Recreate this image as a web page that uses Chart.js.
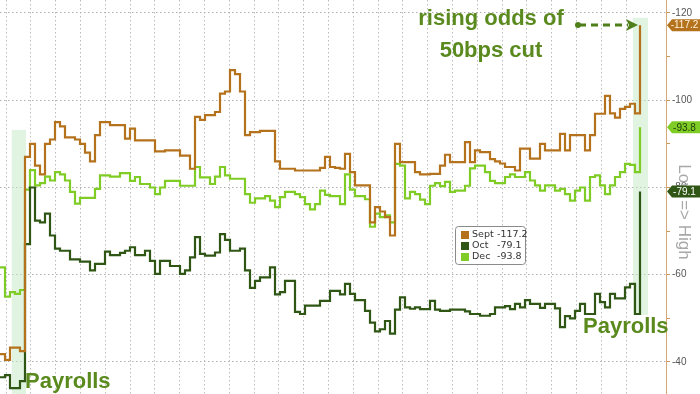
<!DOCTYPE html>
<html><head><meta charset="utf-8">
<script src="https://cdn.jsdelivr.net/npm/chart.js@4.4.1/dist/chart.umd.min.js"></script>
<style>html,body{margin:0;padding:0;background:#fff;overflow:hidden}#wrap{position:relative;width:700px;height:394px}</style>
</head><body><div id="wrap"><canvas id="c" width="700" height="394"></canvas></div>
<script>
const seriesNames = ['Sept', 'Oct', 'Dec'];
const sept = [-41.8,-40.5,-43.3,-43.3,-42.5,-87,-90,-85,-83,-90,
 -91,-95,-94,-91.5,-91.5,-91,-90,-88,-86,-92,
 -95,-95,-94.3,-94.3,-94.3,-91.2,-93.5,-90.8,-90.8,-90.8,
 -90.8,-88.3,-88.3,-88.5,-88.5,-88.5,-87.3,-87.3,-84.3,-96.2,
 -95.5,-96.6,-96.6,-97.3,-101.5,-102,-106.9,-106,-102,-92,
 -92.7,-92.7,-93,-93,-93,-86,-84.3,-84.3,-84.3,-83.9,
 -83.9,-83.9,-83.9,-83.9,-84.5,-87,-84.7,-84.5,-84.3,-87.7,
 -83.5,-80.5,-80.5,-80.5,-72,-75.5,-74.5,-73.2,-69,-90,
 -85.8,-85.8,-85.8,-83.5,-83,-83,-83.1,-83.1,-85,-87.5,
 -85.8,-85.8,-85.8,-90.4,-85.8,-88.5,-88.1,-88.1,-86.5,-86,
 -85.5,-84.7,-84.7,-83.9,-88.9,-88.9,-86.6,-86.6,-90,-88.5,
 -88.5,-88.5,-92.3,-88.5,-92,-92,-92,-88.5,-92,-96.9,
 -96.9,-101,-97,-96,-98,-98.5,-99.2,-97,-117.2];
const oct = [-36.5,-37,-34,-34,-35.6,-67,-80,-72.4,-72,-74,
 -69,-66,-65.5,-65.5,-63.5,-63.5,-63,-63,-61,-62.5,
 -62.5,-65.3,-64.5,-64.5,-65,-65.5,-66.3,-64.5,-64.5,-65.5,
 -63.2,-60.2,-63.2,-63.2,-62,-62,-60.2,-61,-64,-68.6,
 -64.8,-64.4,-64.4,-65.1,-69.3,-68,-65.5,-65.5,-66,-61,
 -57,-58.6,-59.4,-59.4,-61.7,-55.5,-56,-58.6,-58.6,-51.5,
 -51,-52.9,-52.9,-52.9,-54,-54,-56.3,-56.3,-55.5,-57.9,
 -55.6,-54.2,-54.2,-51.7,-49,-47,-47.5,-49.4,-46.5,-52,
 -54.8,-52.5,-52.2,-52.5,-52.1,-52.1,-54,-52,-51.7,-51.7,
 -52,-52,-52,-51.6,-51,-51,-50.6,-50.6,-51,-52.5,
 -52.5,-52.8,-52.1,-53.3,-52.5,-54.2,-53.3,-53.3,-52.4,-53.3,
 -53.3,-52.3,-48,-50.5,-50,-51.7,-53.3,-51,-51,-55.6,
 -53.7,-52.5,-55.6,-54.6,-54.6,-57.1,-57.9,-51,-79.1];
const dec = [-61.7,-55,-56,-55.6,-56.5,-79.5,-84,-80.5,-81,-82.5,
 -81.6,-83.5,-83,-81.6,-79,-76.3,-77.6,-77.6,-77.6,-79.7,
 -82.8,-82.8,-82.5,-82.5,-83.3,-83.3,-81.5,-82.4,-80.8,-80.8,
 -80,-78.5,-80,-81.5,-81.5,-81.5,-80.4,-80.4,-80.4,-84.7,
 -82.3,-82.3,-80.8,-82.5,-84.7,-82.8,-82,-82,-82,-78.5,
 -76.5,-77.5,-77.5,-78,-77,-75.5,-77.8,-79,-79,-78.5,
 -77.8,-76.2,-75,-76.2,-79.3,-78.3,-78,-78,-76.2,-83,
 -79.5,-78,-78,-77.3,-71,-74,-73.2,-73.6,-72,-85.4,
 -85,-77.5,-79,-78.5,-77.2,-76.2,-80.4,-81,-80.3,-81.3,
 -79,-79.3,-79.3,-80.4,-84.4,-85,-85,-83.5,-81.5,-81,
 -81,-82.4,-83,-82.4,-82.4,-83.5,-81.6,-80.5,-79.3,-80.5,
 -80.5,-79.3,-79.7,-78.5,-77,-79.3,-80,-77,-82.4,-82.8,
 -80.5,-78.5,-80.5,-82.4,-83.5,-85.4,-85.2,-83.5,-93.8];
const yTickValues = [-120,-110,-100,-90,-80,-70,-60,-50,-40];
const yLabelValues = [-120,-100,-80,-60,-40];

const colors = ['#b5721d', '#2f5614', '#80cc26'];
const badgeText = ['#fff2dc', '#ffffff', '#1e3a0a'];
const series = [sept, oct, dec];

const X_MIN = 0, X_MAX = 133.2, Y_TOP = -122.98, Y_BOTTOM = -32.66;
const xGrid = [];
for (let k = 0; k <= 25; k++) xGrid.push(1.2 + 4.96 * k);
const bands = [
  {x0: 2.35, x1: 5.2, top: -93.2, bottom: Y_BOTTOM},
  {x0: 126.6, x1: 129.6, top: -118.9, bottom: -50.8}
];

const datasets = series.map((arr, s) => ({
  label: seriesNames[s],
  data: arr.map((v, i) => ({x: i, y: v})),
  borderColor: colors[s],
  backgroundColor: colors[s],
  borderWidth: 2.2,
  pointRadius: 0,
  stepped: true,
  tension: 0,
  fill: false
}));

const overlay = {
  id: 'overlay',
  beforeDatasetsDraw(chart) {
    const {ctx, scales: {x, y}} = chart;
    ctx.save();
    ctx.fillStyle = 'rgba(196,232,196,0.5)';
    bands.forEach(b => {
      const px0 = x.getPixelForValue(b.x0), px1 = x.getPixelForValue(b.x1);
      const py0 = y.getPixelForValue(b.top), py1 = y.getPixelForValue(b.bottom);
      ctx.fillRect(px0, py0, px1 - px0, py1 - py0);
    });
    ctx.restore();
  },
  afterDraw(chart) {
    const {ctx, scales: {x, y}} = chart;
    ctx.save();
    ctx.save();
    ctx.translate(684, 212);
    ctx.rotate(Math.PI / 2);
    ctx.fillStyle = '#a8a8a8';
    ctx.font = '17px "Liberation Sans", Arial, sans-serif';
    ctx.textAlign = 'center';
    ctx.textBaseline = 'middle';
    ctx.fillText('Low => High', 0, 0);
    ctx.restore();

    ctx.font = '10px "Liberation Sans", Arial, sans-serif';
    ctx.textBaseline = 'middle';
    ctx.textAlign = 'center';
    series.forEach((arr, s) => {
      const v = arr[arr.length - 1];
      const yc = y.getPixelForValue(v);
      const xl = chart.chartArea.right + 1;
      ctx.fillStyle = colors[s];
      ctx.beginPath();
      ctx.moveTo(xl, yc);
      ctx.lineTo(xl + 5, yc - 6);
      ctx.lineTo(700, yc - 6);
      ctx.lineTo(700, yc + 6);
      ctx.lineTo(xl + 5, yc + 6);
      ctx.closePath();
      ctx.fill();
      ctx.fillStyle = badgeText[s];
      ctx.fillText(v.toFixed(1), 684.5, yc + 0.5);
    });

    ctx.fillStyle = '#5a8a1e';
    ctx.font = 'bold 22px "Liberation Sans", Arial, sans-serif';
    ctx.textAlign = 'center';
    ctx.textBaseline = 'middle';
    ctx.fillText('rising odds of', 491, 19);
    ctx.fillText('50bps cut', 491, 51);
    ctx.textAlign = 'left';
    ctx.fillText('Payrolls', 25, 382);
    ctx.fillText('Payrolls', 583, 327);

    ctx.strokeStyle = '#4f7f1a';
    ctx.fillStyle = '#4f7f1a';
    ctx.lineWidth = 3;
    ctx.setLineDash([7, 5]);
    ctx.beginPath();
    ctx.moveTo(579, 25);
    ctx.lineTo(628, 25);
    ctx.stroke();
    ctx.setLineDash([]);
    ctx.beginPath();
    ctx.arc(578, 25, 3, 0, Math.PI * 2);
    ctx.fill();
    ctx.beginPath();
    ctx.moveTo(638, 25);
    ctx.lineTo(626, 19);
    ctx.lineTo(629, 25);
    ctx.lineTo(626, 31);
    ctx.closePath();
    ctx.fill();

    const lx = 455, ly = 226, lw = 70, lh = 38;
    ctx.fillStyle = '#ffffff';
    ctx.strokeStyle = '#8a8a8a';
    ctx.lineWidth = 1;
    ctx.beginPath();
    ctx.roundRect(lx + 0.5, ly + 0.5, lw, lh, 3);
    ctx.fill();
    ctx.stroke();
    ctx.font = '9.5px "DejaVu Sans", Verdana, sans-serif';
    ctx.textAlign = 'left';
    ctx.textBaseline = 'middle';
    series.forEach((arr, s) => {
      const ry = ly + 9 + s * 11;
      ctx.fillStyle = colors[s];
      ctx.fillRect(lx + 6, ry - 4, 8, 8);
      ctx.fillStyle = '#333';
      ctx.fillText(seriesNames[s], lx + 17, ry);
      ctx.fillText(arr[arr.length - 1].toFixed(1), lx + 42, ry);
    });
    ctx.restore();
  }
};

new Chart(document.getElementById('c'), {
  type: 'line',
  data: {datasets},
  options: {
    responsive: false,
    animation: false,
    devicePixelRatio: 1,
    layout: {padding: 0},
    plugins: {legend: {display: false}, tooltip: {enabled: false}},
    scales: {
      x: {
        type: 'linear', min: X_MIN, max: X_MAX,
        ticks: {display: false},
        grid: {color: '#bcbcbc', drawTicks: false, lineWidth: 1},
        border: {display: false, dash: [1.5, 2.5]},
        afterBuildTicks: sc => { sc.ticks = xGrid.map(v => ({value: v})); },
        afterFit: sc => { sc.height = 0; sc.paddingLeft = 0; sc.paddingRight = 0; }
      },
      y: {
        type: 'linear', position: 'right', reverse: true,
        min: Y_TOP, max: Y_BOTTOM,
        afterBuildTicks: sc => { sc.ticks = yTickValues.map(v => ({value: v})); },
        afterFit: sc => { sc.width = 34; sc.paddingTop = 0; sc.paddingBottom = 0; },
        ticks: {
          color: '#555',
          padding: 2,
          font: {family: '"Liberation Sans", Arial, sans-serif', size: 10},
          callback: v => yLabelValues.includes(v) ? String(v) : ''
        },
        grid: {
          color: c => (c.tick && yLabelValues.includes(c.tick.value)) ? '#b0b0b0' : 'rgba(0,0,0,0)',
          tickColor: '#c9955a',
          tickLength: 4,
          drawTicks: true
        },
        border: {display: true, color: '#d4a874', width: 1, dash: [1.5, 2.5]}
      }
    }
  },
  plugins: [overlay]
});
</script></body></html>
